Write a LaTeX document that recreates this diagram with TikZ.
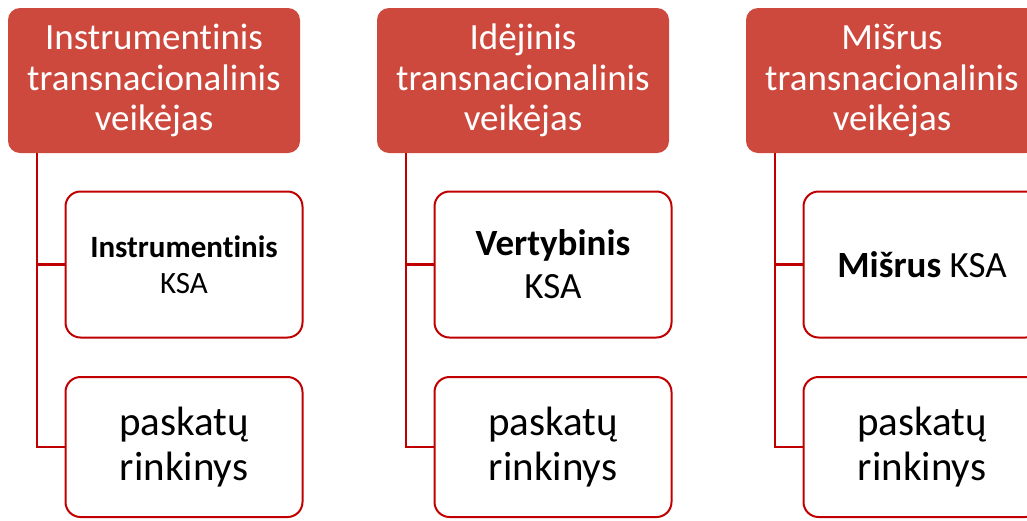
\documentclass[tikz,border=0pt]{standalone}
\usepackage{fontspec}
\setmainfont{Carlito}[Ligatures=NoCommon]
\definecolor{hdrred}{RGB}{205,73,62}
\definecolor{linered}{RGB}{192,0,0}
\tikzset{
  hdr/.style={rectangle, rounded corners=12pt, fill=hdrred, draw=none, text=white,
    minimum width=292pt, minimum height=145pt, align=center, inner sep=2pt,
    font=\fontsize{37}{40.5}\selectfont},
  child/.style={rectangle, rounded corners=15pt, draw=linered, line width=2pt, fill=white,
    minimum width=237pt, align=center, inner sep=2pt, text=black},
  topchild/.style={child, minimum height=146pt},
  botchild/.style={child, minimum height=140pt, font=\fontsize{41}{45}\selectfont},
  conn/.style={draw=linered, line width=2.5pt}
}
\begin{document}
\begin{tikzpicture}[x=1pt,y=-1pt]
\useasboundingbox (0,0) rectangle (1027,520);
\clip (0,0) rectangle (1027,520);
% column 1
\node[hdr] (h1) at (154,80.5) {Instrumentinis\\transnacionalinis\\veikėjas};
\node[topchild, font=\fontsize{31}{36}\selectfont] (a1) at (184,264.5) {\textbf{Instrumentinis}\\KSA};
\node[botchild] (b1) at (184,447) {paskatų\\rinkinys};
% column 2
\node[hdr] (h2) at (523,80.5) {Idėjinis\\transnacionalinis\\veikėjas};
\node[topchild, font=\fontsize{37}{43}\selectfont] (a2) at (553,264.5) {\textbf{Vertybinis}\\KSA};
\node[botchild] (b2) at (553,447) {paskatų\\rinkinys};
% column 3
\node[hdr] (h3) at (892,80.5) {Mišrus\\transnacionalinis\\veikėjas};
\node[topchild, font=\fontsize{37}{43}\selectfont] (a3) at (922,264.5) {\textbf{Mišrus} KSA};
\node[botchild] (b3) at (922,447) {paskatų\\rinkinys};
% connectors
\foreach \i in {1,2,3}{
  \draw[conn] ([xshift=-117pt]h\i.south) |- (b\i.west);
  \draw[conn] ([xshift=-117pt]h\i.south) |- (a\i.west);
}
\end{tikzpicture}
\end{document}
